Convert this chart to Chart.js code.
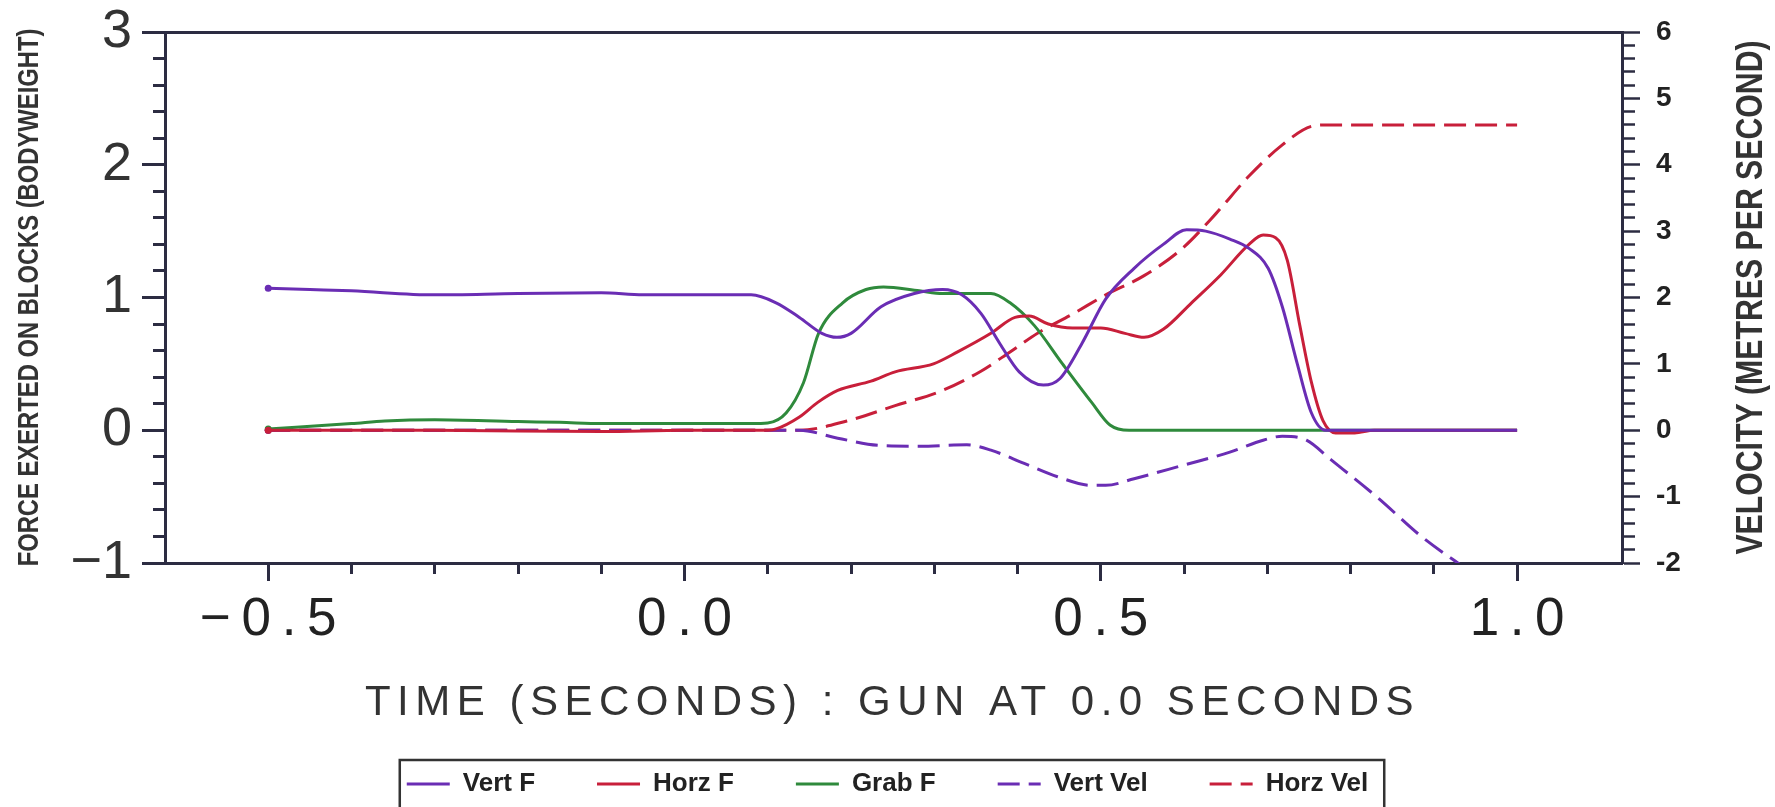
<!DOCTYPE html>
<html>
<head>
<meta charset="utf-8">
<title>Block start forces and velocities</title>
<script src="https://cdn.jsdelivr.net/npm/chart.js@4/dist/chart.umd.min.js"></script>
<style>
  html, body { margin: 0; padding: 0; background: #fff; }
  canvas { display: block; }
</style>
</head>
<body>
<canvas id="chart" width="1775" height="807"></canvas>
<script>
// force on the blocks (bodyweights), [time s, value]
const vertF = [
  [-0.5, 1.07], [-0.45, 1.06], [-0.4, 1.05], [-0.3, 1.02], [-0.2, 1.03], [-0.1, 1.035],
  [-0.05, 1.02], [0.0, 1.02], [0.08, 1.02], [0.11, 0.96], [0.138, 0.85], [0.165, 0.73],
  [0.183, 0.70], [0.2, 0.73], [0.236, 0.93], [0.276, 1.03], [0.31, 1.06], [0.333, 1.02],
  [0.356, 0.88], [0.379, 0.65], [0.402, 0.44], [0.431, 0.34], [0.451, 0.39], [0.477, 0.65],
  [0.506, 0.99], [0.54, 1.22], [0.575, 1.40], [0.603, 1.51], [0.626, 1.50], [0.655, 1.44],
  [0.678, 1.37], [0.701, 1.22], [0.718, 0.93], [0.736, 0.50], [0.753, 0.13], [0.77, 0.0],
  [0.8, 0.0], [1.0, 0.0]
];
const horzF = [
  [-0.5, 0.0], [-0.3, 0.0], [-0.1, -0.01], [0.0, 0.0], [0.1, 0.0], [0.11, 0.01],
  [0.138, 0.1], [0.16, 0.21], [0.184, 0.30], [0.224, 0.37], [0.253, 0.44], [0.299, 0.50],
  [0.328, 0.59], [0.368, 0.73], [0.397, 0.85], [0.414, 0.86], [0.437, 0.80], [0.466, 0.77],
  [0.5, 0.77], [0.529, 0.73], [0.552, 0.70], [0.575, 0.76], [0.609, 0.96], [0.644, 1.17],
  [0.678, 1.40], [0.695, 1.47], [0.71, 1.45], [0.724, 1.28], [0.739, 0.79], [0.753, 0.36],
  [0.767, 0.07], [0.782, -0.02], [0.805, -0.02], [0.828, 0.0], [1.0, 0.0]
];
const grabF = [
  [-0.5, 0.01], [-0.4, 0.05], [-0.36, 0.07], [-0.3, 0.08], [-0.2, 0.065], [-0.15, 0.06],
  [-0.1, 0.05], [0.0, 0.05], [0.08, 0.05], [0.1, 0.055], [0.122, 0.13], [0.143, 0.36],
  [0.161, 0.73], [0.19, 0.96], [0.218, 1.06], [0.239, 1.08], [0.282, 1.05], [0.31, 1.03],
  [0.368, 1.03], [0.391, 0.96], [0.42, 0.79], [0.454, 0.50], [0.489, 0.21], [0.511, 0.04],
  [0.534, 0.0], [1.0, 0.0]
];
// velocity (m/s), [time s, value]
const vertVel = [
  [-0.5, 0.0], [0.0, 0.0], [0.1, 0.0], [0.138, 0.0], [0.184, -0.12], [0.236, -0.23],
  [0.282, -0.24], [0.339, -0.22], [0.368, -0.30], [0.408, -0.50], [0.448, -0.70],
  [0.489, -0.83], [0.506, -0.83], [0.54, -0.73], [0.598, -0.53], [0.655, -0.33],
  [0.695, -0.15], [0.718, -0.09], [0.747, -0.15], [0.776, -0.44], [0.833, -1.02],
  [0.885, -1.60], [0.94, -2.1]
];
const horzVel = [
  [-0.5, 0.0], [0.0, 0.0], [0.1, 0.0], [0.138, 0.0], [0.195, 0.14], [0.253, 0.37],
  [0.31, 0.6], [0.356, 0.89], [0.391, 1.18], [0.425, 1.47], [0.466, 1.75], [0.506, 2.04],
  [0.552, 2.33], [0.598, 2.74], [0.638, 3.26], [0.678, 3.83], [0.718, 4.30], [0.753, 4.58],
  [0.77, 4.6], [1.0, 4.6]
];

const seriesNames = ['Vert F', 'Horz F', 'Grab F', 'Vert Vel', 'Horz Vel'];
const xTitle = 'TIME (SECONDS) : GUN AT 0.0 SECONDS';
const yTitle = 'FORCE EXERTED ON BLOCKS (BODYWEIGHT)';
const y1Title = 'VELOCITY (METRES PER SECOND)';

const AXIS = '#2c2c42';
const PURPLE = '#6a2db4';
const RED = '#c81f3a';
const GREEN = '#2f8a3c';
const SANS = "'Liberation Sans', Arial, sans-serif";
const LEGEND_PAD = 62;

const isMult = (v, s) => Math.abs(v / s - Math.round(v / s)) < 1e-6;
const minus = v => (v < 0 ? '\u2212' : '') + Math.abs(v);
// spaced-out labels like the old plotter font
const fmtX = v => ((v < -1e-9 ? '\u2212' : '') + Math.abs(v).toFixed(1)).split('').join('\u2009');

function line(label, data, color, axis, dash) {
  return {
    label: label,
    data: data,
    yAxisID: axis,
    borderColor: color,
    backgroundColor: color,
    borderWidth: 3,
    borderDash: dash || [],
    cubicInterpolationMode: 'monotone',
    pointRadius: ctx => ctx.dataIndex === 0 ? 3.5 : 0,
    pointBackgroundColor: color,
    pointBorderWidth: 0,
    fill: false
  };
}

// draw text squeezed sideways, the plot used a narrow bold face
function narrowText(ctx, text, x, y, size, squeeze, rotate) {
  ctx.save();
  ctx.translate(x, y);
  if (rotate) ctx.rotate(-Math.PI / 2);
  ctx.scale(squeeze, 1);
  ctx.font = 'bold ' + size + 'px ' + SANS;
  ctx.textAlign = 'center';
  ctx.textBaseline = 'middle';
  ctx.fillText(text, 0, 0);
  ctx.restore();
}

const titles = {
  id: 'titles',
  afterDraw(chart) {
    const ctx = chart.ctx;
    const ca = chart.chartArea;
    const midY = (ca.top + ca.bottom) / 2;
    ctx.save();
    ctx.fillStyle = '#333';
    ctx.textAlign = 'center';
    ctx.textBaseline = 'middle';
    ctx.font = '42px ' + SANS;
    ctx.letterSpacing = '6.5px';
    ctx.fillText(xTitle, (ca.left + ca.right) / 2 - 1, ca.bottom + 140);
    ctx.letterSpacing = '0px';
    narrowText(ctx, yTitle, ca.left - 135, midY, 29, 0.82, true);
    narrowText(ctx, y1Title, ca.right + 130, midY, 36, 0.84, true);
    ctx.restore();

    // box round the legend
    const hb = chart.legend.legendHitBoxes;
    if (hb && hb.length) {
      const first = hb[0], last = hb[hb.length - 1];
      const left = first.left - 7;
      const right = last.left + last.width + 16;
      const top = first.top + first.height / 2 - 24;
      ctx.save();
      ctx.strokeStyle = '#333';
      ctx.lineWidth = 2.5;
      ctx.strokeRect(left, top, right - left, chart.height - top + 10);
      ctx.restore();
    }
  }
};

new Chart(document.getElementById('chart'), {
  type: 'line',
  data: {
    datasets: [
      line(seriesNames[0], vertF, PURPLE, 'y'),
      line(seriesNames[1], horzF, RED, 'y'),
      line(seriesNames[2], grabF, GREEN, 'y'),
      line(seriesNames[3], vertVel, PURPLE, 'y1', [22, 9]),
      line(seriesNames[4], horzVel, RED, 'y1', [22, 9])
    ]
  },
  options: {
    responsive: false,
    animation: false,
    devicePixelRatio: 1,
    layout: { padding: { top: 32, right: 0, bottom: 0, left: 0 } },
    plugins: {
      tooltip: { enabled: false },
      legend: {
        position: 'bottom',
        labels: {
          usePointStyle: true,
          pointStyleWidth: 43,
          padding: LEGEND_PAD,
          color: '#222',
          font: { family: SANS, size: 26, weight: 'bold' },
          generateLabels: chart => chart.data.datasets.map((ds, i) => ({
            text: ds.label,
            datasetIndex: i,
            hidden: false,
            pointStyle: 'line',
            strokeStyle: ds.borderColor,
            fillStyle: ds.borderColor,
            lineWidth: ds.borderWidth,
            lineDash: ds.borderDash,
            fontColor: '#222'
          }))
        }
      }
    },
    scales: {
      x: {
        type: 'linear',
        position: 'bottom',
        min: -0.624,
        max: 1.126,
        afterBuildTicks: s => { s.ticks = s.ticks.filter(t => t.value > -0.5001 && t.value < 1.0001); },
        afterFit: s => { s.height = 208 - LEGEND_PAD; s.paddingLeft = 0; s.paddingRight = 0; },
        ticks: {
          stepSize: 0.1,
          includeBounds: false,
          autoSkip: false,
          maxRotation: 0,
          minRotation: 0,
          padding: 8,
          color: '#222',
          font: { family: SANS, size: 53 },
          callback: v => isMult(v, 0.5) ? fmtX(v) : ''
        },
        grid: {
          drawOnChartArea: false,
          tickLength: 18,
          tickWidth: 3,
          tickColor: AXIS,
          tickBorderDash: c => isMult(c.tick.value, 0.5) ? [] : [9, 40]
        },
        border: { color: AXIS, width: 3 }
      },
      x2: {
        type: 'linear',
        position: 'top',
        min: -0.624,
        max: 1.126,
        afterFit: s => { s.height = 0; },
        ticks: { display: false },
        grid: { display: false },
        border: { color: AXIS, width: 3 }
      },
      y: {
        position: 'left',
        min: -1,
        max: 3,
        afterFit: s => { s.width = 165; s.paddingTop = 0; s.paddingBottom = 0; },
        ticks: {
          stepSize: 0.2,
          autoSkip: false,
          padding: 10,
          color: '#333',
          font: { family: SANS, size: 54 },
          callback: v => isMult(v, 1) ? minus(Math.round(v)) : ''
        },
        grid: {
          drawOnChartArea: false,
          tickLength: 23,
          tickWidth: 3,
          tickColor: AXIS,
          tickBorderDash: c => isMult(c.tick.value, 1) ? [] : [0, 11, 12, 40]
        },
        border: { color: AXIS, width: 3 }
      },
      y1: {
        position: 'right',
        min: -2,
        max: 6,
        afterFit: s => { s.width = 153; s.paddingTop = 0; s.paddingBottom = 0; },
        ticks: {
          stepSize: 0.2,
          autoSkip: false,
          padding: 16,
          crossAlign: 'near',
          color: '#222',
          font: { family: SANS, size: 28, weight: 'bold' },
          callback: v => isMult(v, 1) ? String(Math.round(v)) : ''
        },
        grid: {
          drawOnChartArea: false,
          tickLength: 18,
          tickWidth: 2.5,
          tickColor: AXIS,
          tickBorderDash: c => isMult(c.tick.value, 1) ? [] : [11, 40]
        },
        border: { color: AXIS, width: 3 }
      }
    }
  },
  plugins: [titles]
});
</script>
</body>
</html>
